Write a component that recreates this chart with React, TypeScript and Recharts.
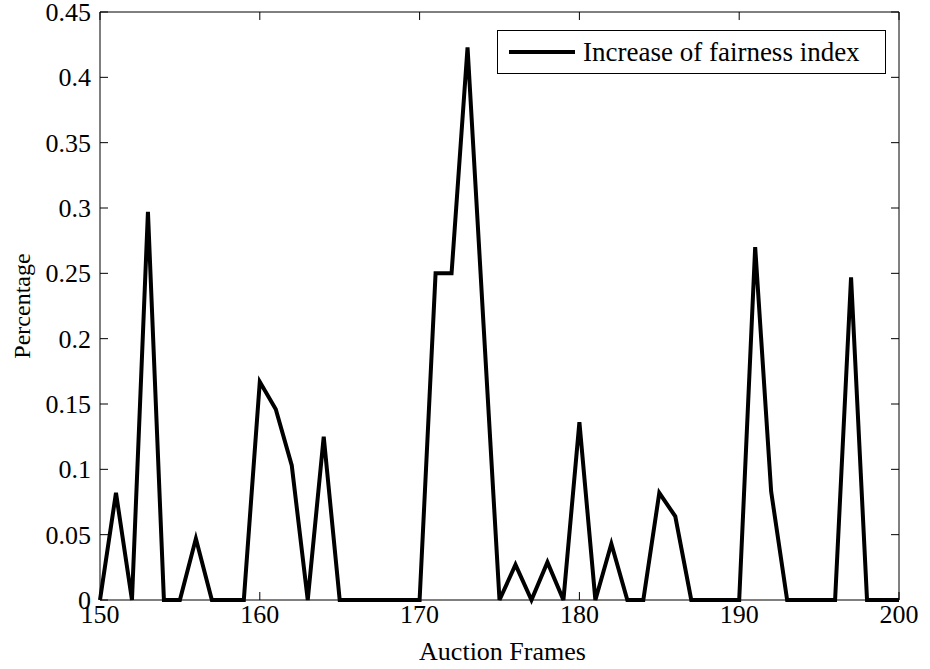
import React from "react";
import {
  LineChart,
  Line,
  XAxis,
  YAxis,
  Legend,
} from "recharts";

const frames = [
  150, 151, 152, 153, 154, 155, 156, 157, 158, 159,
  160, 161, 162, 163, 164, 165, 166, 167, 168, 169,
  170, 171, 172, 173, 174, 175, 176, 177, 178, 179,
  180, 181, 182, 183, 184, 185, 186, 187, 188, 189,
  190, 191, 192, 193, 194, 195, 196, 197, 198, 199, 200,
];

const fairnessIncrease = [
  0, 0.082, 0, 0.297, 0, 0, 0.047, 0, 0, 0,
  0.167, 0.146, 0.103, 0, 0.125, 0, 0, 0, 0, 0,
  0, 0.25, 0.25, 0.423, 0.211, 0, 0.027, 0, 0.029, 0,
  0.136, 0, 0.043, 0, 0, 0.082, 0.064, 0, 0, 0,
  0, 0.27, 0.083, 0, 0, 0, 0, 0.247, 0, 0, 0,
];

const xTicks = [150, 160, 170, 180, 190, 200];
const yTicks = [0, 0.05, 0.1, 0.15, 0.2, 0.25, 0.3, 0.35, 0.4, 0.45];

const seriesName = "Increase of fairness index";
const xTitle = "Auction Frames";
const yTitle = "Percentage";

const data = frames.map((frame, i) => ({ frame, value: fairnessIncrease[i] }));

const FONT = "Liberation Serif, Times New Roman, serif";
const TICK_LEN = 8;

// matlab style: tick marks point into the plot, labels outside
function LeftTick(props: any) {
  const { x, y, payload } = props;
  const axisX = x + 9;
  return (
    <g>
      <line x1={axisX} x2={axisX + TICK_LEN} y1={y} y2={y} stroke="#000" strokeWidth={1} />
      <text x={x} y={y} dy="0.35em" textAnchor="end" fontSize={26} fontFamily={FONT} fill="#000">
        {String(payload.value)}
      </text>
    </g>
  );
}

function BottomTick(props: any) {
  const { x, y, payload } = props;
  const axisY = y - 4;
  return (
    <g>
      <line x1={x} x2={x} y1={axisY} y2={axisY - TICK_LEN} stroke="#000" strokeWidth={1} />
      <text x={x} y={y} dy="0.72em" textAnchor="middle" fontSize={26} fontFamily={FONT} fill="#000">
        {String(payload.value)}
      </text>
    </g>
  );
}

function TopTick(props: any) {
  const { x, y } = props;
  return <line x1={x} x2={x} y1={y} y2={y + TICK_LEN} stroke="#000" strokeWidth={1} />;
}

function RightTick(props: any) {
  const { x, y } = props;
  return <line x1={x} x2={x - TICK_LEN} y1={y} y2={y} stroke="#000" strokeWidth={1} />;
}

function YTitle(props: any) {
  const vb = props.viewBox || {};
  const x = 22;
  const y = vb.y + vb.height / 2;
  return (
    <text
      x={x}
      y={y}
      transform={`rotate(-90, ${x}, ${y})`}
      textAnchor="middle"
      dominantBaseline="central"
      fontSize={24}
      fontFamily={FONT}
      fill="#000"
    >
      {yTitle}
    </text>
  );
}

function XTitle(props: any) {
  const vb = props.viewBox || {};
  return (
    <text
      x={vb.x + vb.width / 2 + 3}
      y={660}
      textAnchor="middle"
      fontSize={26}
      fontFamily={FONT}
      fill="#000"
    >
      {xTitle}
    </text>
  );
}

function LegendBox() {
  return (
    <div
      style={{
        boxSizing: "border-box",
        width: 389,
        height: 44,
        border: "1px solid #000",
        background: "#fff",
        display: "flex",
        alignItems: "center",
        fontFamily: FONT,
        fontSize: 27,
        color: "#000",
      }}
    >
      <div style={{ width: 66, height: 4, background: "#000", marginLeft: 11, marginRight: 8 }} />
      <span style={{ lineHeight: "27px" }}>{seriesName}</span>
    </div>
  );
}

export default function App() {
  return (
    <div style={{ position: "absolute", left: 0, top: 0, width: 930, height: 669, background: "#fff" }}>
      <LineChart
        width={930}
        height={669}
        data={data}
        margin={{ top: 11, right: 30, bottom: 0, left: 0 }}
      >
        <XAxis
          dataKey="frame"
          type="number"
          domain={[150, 200]}
          ticks={xTicks}
          interval={0}
          height={69}
          tickSize={0}
          tickMargin={4}
          tickLine={false}
          stroke="#000"
          tick={<BottomTick />}
          label={<XTitle />}
        />
        <XAxis
          xAxisId="top"
          orientation="top"
          dataKey="frame"
          type="number"
          domain={[150, 200]}
          ticks={xTicks}
          interval={0}
          height={1}
          tickSize={0}
          tickMargin={0}
          tickLine={false}
          stroke="#000"
          tick={<TopTick />}
        />
        <YAxis
          type="number"
          domain={[0, 0.45]}
          ticks={yTicks}
          interval={0}
          width={100}
          tickSize={0}
          tickMargin={9}
          tickLine={false}
          stroke="#000"
          tick={<LeftTick />}
          label={<YTitle />}
        />
        <YAxis
          yAxisId="right"
          orientation="right"
          type="number"
          domain={[0, 0.45]}
          ticks={yTicks}
          interval={0}
          width={1}
          tickSize={0}
          tickMargin={0}
          tickLine={false}
          stroke="#000"
          tick={<RightTick />}
        />
        <Legend
          layout="horizontal"
          verticalAlign="middle"
          align="center"
          content={<LegendBox />}
          wrapperStyle={{ position: "absolute", left: 497, top: 30, width: 389 }}
        />
        {/* invisible twin so the top / right frame axes get a scale */}
        <Line
          xAxisId="top"
          yAxisId="right"
          type="linear"
          dataKey="value"
          stroke="none"
          dot={false}
          activeDot={false}
          legendType="none"
          isAnimationActive={false}
        />
        <Line
          type="linear"
          dataKey="value"
          name={seriesName}
          stroke="#000"
          strokeWidth={4}
          dot={false}
          activeDot={false}
          isAnimationActive={false}
        />
      </LineChart>
    </div>
  );
}
